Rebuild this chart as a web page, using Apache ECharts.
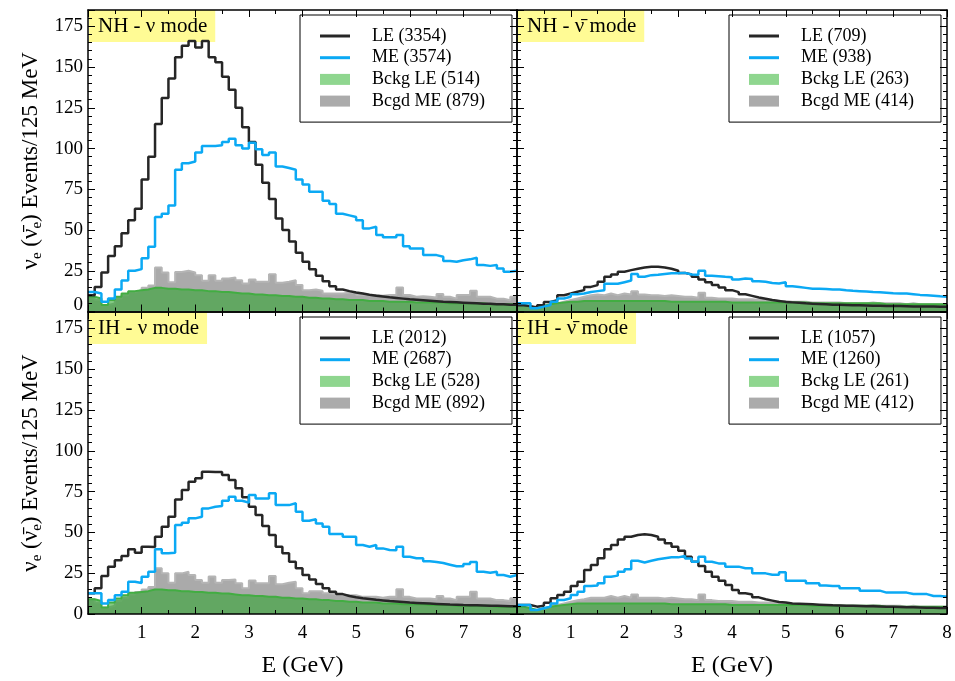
<!DOCTYPE html>
<html><head><meta charset="utf-8">
<script src="https://cdn.jsdelivr.net/npm/echarts@6/dist/echarts.min.js"></script>
<style>html,body{margin:0;padding:0;background:#fff}#c{width:955px;height:681px}</style>
</head><body><div id="c"></div>
<script>
// ---------------- data ----------------
const binWidth = 0.125; // GeV, 64 bins from 0 to 8 GeV
const xTickValues = [1, 2, 3, 4, 5, 6, 7, 8];
const yTickValues = [0, 25, 50, 75, 100, 125, 150, 175];
const panelTitles = ['NH - \u03bd mode', 'NH - \u03bd\u0304 mode', 'IH - \u03bd mode', 'IH - \u03bd\u0304 mode'];
const leCounts = [3354, 709, 2012, 1057];
const meCounts = [3574, 938, 2687, 1260];
const bkgLECounts = [514, 263, 528, 261];
const bkgMECounts = [879, 414, 892, 412];

// NH, neutrino mode
const nhNuLE = [
  10, 15, 24, 34, 40, 48, 56, 63, 81, 95,
  115, 131, 143, 156, 163, 166, 162, 166, 156, 153,
  144, 136, 125, 113, 104, 90, 79, 69, 57, 50,
  43, 36, 30.5, 26, 22, 18.6, 15.5, 13.5, 12.5, 11.7,
  11, 10.3, 9.7, 9.2, 8.7, 8.3, 7.9, 7.5, 7.2, 6.9,
  6.6, 6.3, 6.0, 5.8, 5.6, 5.4, 5.2, 5.0, 4.8, 4.7,
  4.5, 4.4, 4.2, 4.1];
const nhNuME = [
  12, 11, 6, 8, 13.5, 19, 25, 26, 32.6, 39.7,
  58, 60, 65, 87, 91, 92, 97.5, 101.6, 101.6, 102,
  104, 106, 102, 100, 103.6, 99.6, 96, 97.5, 89, 88,
  87, 81, 78, 73.5, 73.5, 68, 66, 60, 59, 58,
  56, 51, 52, 47, 45.5, 45.5, 47, 40, 38.7, 38.7,
  34.6, 34.6, 33.6, 31, 30.5, 31.5, 32, 33, 28.5, 28,
  28.5, 26.4, 24.4, 25];
const nhNuBkgLE = [
  9, 8, 4, 7, 9, 11, 12.5, 13, 13.5, 14.5,
  14.5, 14, 14, 13.5, 13.5, 13, 13, 12.5, 12.5, 12,
  12, 11.5, 11, 11, 10.5, 10.5, 10, 10, 9.5, 9.5,
  9, 9, 8.5, 8.5, 8, 8, 7.5, 7.5, 7, 7,
  7, 6.5, 6.5, 6.5, 6, 6, 6, 6, 5.5, 5.5,
  5.5, 5.5, 5.5, 5, 5, 5, 5, 5, 5, 4.5,
  4.5, 4.5, 4.5, 4.5];
const nhNuBkgME = [
  9, 7, 4, 5, 8, 10, 12, 13, 14.5, 16,
  27, 24, 18, 24.3, 25, 24, 22.3, 18.8, 22.3, 18.8,
  20.3, 20.9, 19.2, 17.2, 19.6, 18.2, 18.2, 22.9, 17.6, 18.2,
  19.2, 16.2, 13.1, 13.5, 12.7, 11.1, 11.1, 11.1, 11.5, 11.5,
  10.1, 10.1, 10.1, 9.6, 10.1, 10.1, 14.7, 10.1, 9, 9.3,
  9, 8.6, 10.7, 9, 7.9, 10.1, 10.1, 12.7, 9, 9,
  7.9, 7.9, 6.9, 9];

// NH, antineutrino mode
const nhAnuLE = [
  3.9, 3.3, 2.5, 3.9, 5.9, 6.9, 10, 11, 12.1, 13.1,
  15.1, 16.2, 18.2, 21.3, 22.7, 24.4, 25.4, 26.2, 27, 27.4,
  27.4, 27, 26.2, 25, 23.7, 22.7, 21.3, 19.7, 18, 16.2,
  14.7, 13.1, 11.9, 10.6, 9.6, 8.6, 7.8, 7, 6.5, 5.9,
  5.6, 5.3, 5.0, 4.8, 4.6, 4.4, 4.2, 4.1, 4.0, 3.9,
  3.8, 3.7, 3.6, 3.5, 3.4, 3.3, 3.3, 3.2, 3.1, 3.1,
  3.0, 3.0, 2.9, 2.9];
const nhAnuME = [
  5, 5, 2, 3, 4, 6, 8, 9, 10.6, 11,
  12, 12.5, 13, 17, 17, 18, 19, 23, 21.3, 22.3,
  22.5, 23, 23.4, 23.4, 23.7, 22.7, 22.5, 25, 22, 21.7,
  21.3, 21, 19.7, 20.3, 20, 18.6, 18.2, 17.5, 17.2, 18,
  15.5, 15, 14.5, 14, 14, 13.8, 13.5, 13.5, 13, 12.7,
  12.5, 12.3, 12, 11.8, 11.5, 11.2, 11, 11, 10.6, 10.2,
  10, 9.7, 9.3, 9];
const nhAnuBkgLE = [
  4, 3, 2.5, 3.5, 4.5, 5, 5.5, 6, 6, 6.5,
  6.5, 6.5, 6.5, 6.5, 6.5, 6.5, 6.5, 6.5, 6.5, 6.5,
  6.5, 6.5, 6, 6, 6, 6, 6, 6, 6, 6,
  6, 5.5, 5.5, 5.5, 5.5, 5.5, 5.5, 5.5, 5.5, 5.5,
  5.5, 5.5, 5.5, 5, 5, 5, 5, 5, 5, 5,
  5, 5, 5, 5, 4.5, 4.5, 4.5, 4.5, 4.5, 4.5,
  4.5, 4.5, 4.5, 4.5];
const nhAnuBkgME = [
  4, 3, 2, 3, 4, 5, 6, 7, 8, 9,
  10, 10.5, 10, 11, 10, 11, 10.5, 12.5, 10.5, 10,
  10, 9.5, 10, 9.5, 9, 9, 8.5, 11.5, 8.5, 8,
  8, 8, 7.5, 7.5, 7.5, 7, 7, 7, 6.5, 6.5,
  6, 6, 6, 5.5, 5.5, 5.5, 5.5, 5.5, 5, 5,
  5, 5, 5.5, 5, 5, 5, 5, 4.5, 5, 4.5,
  4.5, 4.5, 4.5, 4.5];

// IH, neutrino mode
const ihNuLE = [
  12.7, 15.7, 23.3, 29, 33, 35.5, 39.6, 37.5, 41.2, 41,
  47.3, 53.5, 59.6, 70.2, 75.9, 81, 83.1, 87.1, 87, 87,
  85.1, 82.1, 77, 71.5, 65.7, 60.6, 53.9, 48.4, 41.2, 37.2,
  32, 28, 23.9, 21.2, 18.4, 15.7, 13.7, 12.2, 11, 10.3,
  9.7, 9.2, 8.7, 8.3, 7.9, 7.6, 7.3, 7.0, 6.8, 6.6,
  6.4, 6.2, 6.0, 5.8, 5.7, 5.5, 5.4, 5.3, 5.2, 5.1,
  5.0, 4.9, 4.8, 4.7];
const ihNuME = [
  12.7, 12.7, 6.5, 8.6, 11.5, 13.7, 19.8, 19, 22.8, 25.9,
  39.6, 37.2, 37.5, 54.5, 55.9, 58.6, 59.6, 64.7, 65.7, 66.1,
  69.4, 71.8, 69.4, 68.2, 72.9, 70.8, 70.8, 73.9, 66.7, 66.7,
  67.8, 62.6, 57.1, 58, 55.5, 53.5, 49, 49, 47.3, 47.3,
  42.3, 41.2, 42.3, 40.2, 39.2, 39, 41.2, 35.1, 34.1, 34.1,
  32.3, 31.9, 31.2, 30.2, 29.2, 29.2, 30.6, 31.9, 25.9, 25.3,
  25.9, 23.9, 22.8, 23.9];
const ihNuBkgLE = [
  9, 8, 4, 7, 9.5, 11.5, 13, 13.5, 14, 15,
  15, 14.5, 14.5, 14, 14, 13.5, 13.5, 13, 13, 12.5,
  12.5, 12, 11.5, 11.5, 11, 11, 10.5, 10.5, 10, 10,
  9.5, 9.5, 9, 9, 8.5, 8.5, 8, 8, 7.5, 7.5,
  7, 7, 7, 6.5, 6.5, 6.5, 6, 6, 6, 6,
  5.5, 5.5, 5.5, 5.5, 5, 5, 5, 5, 5, 5,
  4.5, 4.5, 4.5, 4.5];
const ihNuBkgME = [
  9, 7, 4, 5, 8, 10, 12, 13.5, 15, 16.5,
  28, 24.9, 19.2, 24.9, 25.9, 23.9, 20.8, 19.2, 23, 19.2,
  20.8, 21.2, 18.8, 15.7, 20.5, 18.8, 18.8, 23.3, 18.2, 19.2,
  19.8, 15.7, 12.7, 14, 14, 12.7, 12, 11.5, 11.5, 11.5,
  10.5, 10.5, 10.5, 10, 10.5, 10.5, 15.1, 10.5, 9.5, 9.5,
  9.5, 9, 11, 9.5, 8.5, 10.5, 10.5, 13.7, 9.5, 9.5,
  8.5, 8.5, 8, 9.6];

// IH, antineutrino mode
const ihAnuLE = [
  5.5, 5.5, 4.5, 5, 6.9, 9.6, 11.6, 13.7, 17.1, 19.8,
  26.9, 30, 34.1, 39.6, 42.3, 45.7, 47.3, 48.4, 48.8, 48.4,
  47.3, 45.7, 43.3, 41.2, 38.8, 35.1, 32, 29.4, 25.9, 22.8,
  20.4, 17.8, 14.7, 12.7, 12, 10.2, 9, 8.2, 7.3, 7,
  6.5, 6.3, 6.1, 5.9, 5.7, 5.5, 5.3, 5.2, 5.1, 5.0,
  4.9, 4.8, 4.7, 4.6, 4.5, 4.4, 4.3, 4.2, 4.1, 4.0,
  3.9, 3.8, 3.7, 3.6];
const ihAnuME = [
  5.5, 5.5, 2.4, 3.5, 4.5, 6.5, 8.6, 9.6, 11.6, 13.7,
  17.1, 17.5, 18.8, 22.8, 23.5, 25.9, 27.4, 32.6, 31.6, 32.6,
  33.5, 34.1, 34.7, 34.7, 35.5, 34, 32, 35.1, 32, 31,
  31, 29, 29, 28, 28, 24.9, 24.9, 24, 24, 25.5,
  20.4, 20.4, 20.4, 18.8, 18.8, 17.5, 17.1, 17.1, 15.7, 15.7,
  15.7, 14.3, 14.3, 14.3, 13.1, 13.1, 13.1, 13.1, 12.2, 12.2,
  12.2, 11, 11, 10.5];
const ihAnuBkgLE = [
  4.5, 3.5, 2.5, 3.5, 4.5, 5, 5.5, 6, 6.5, 6.5,
  6.5, 6.5, 6.5, 6.5, 6.5, 6.5, 6.5, 6.5, 6.5, 6.5,
  6.5, 6.5, 6, 6, 6, 6, 6, 6, 6, 6,
  6, 5.5, 5.5, 5.5, 5.5, 5.5, 5.5, 5.5, 5.5, 5.5,
  5.5, 5.5, 5.5, 5, 5, 5, 5, 5, 5, 5,
  5, 5, 5, 5, 4.5, 4.5, 4.5, 4.5, 4.5, 4.5,
  4.5, 4.5, 4.5, 4.5];
const ihAnuBkgME = [
  4, 3, 2, 3, 4, 5.5, 6.5, 7.5, 8.5, 9,
  10, 10, 10, 11, 10, 11, 10, 12, 10, 10,
  10, 9.5, 10, 9.5, 9, 9, 8.5, 12, 8.5, 8,
  8, 8, 7.5, 7.5, 7.5, 7, 7, 7, 6.5, 6.5,
  6, 6, 6, 5.5, 5.5, 5.5, 5.5, 5.5, 5, 5,
  5, 5, 5.5, 5, 5, 5, 5, 4.5, 5, 4.5,
  4.5, 4.5, 4.5, 4.5];

// ---------------- chart ----------------
const FONT = "'Liberation Serif', 'DejaVu Serif', serif";
const panels = [
  {le: nhNuLE, me: nhNuME, bkLE: nhNuBkgLE, bkME: nhNuBkgME},
  {le: nhAnuLE, me: nhAnuME, bkLE: nhAnuBkgLE, bkME: nhAnuBkgME},
  {le: ihNuLE, me: ihNuME, bkLE: ihNuBkgLE, bkME: ihNuBkgME},
  {le: ihAnuLE, me: ihAnuME, bkLE: ihAnuBkgLE, bkME: ihAnuBkgME}
];
const gridBoxes = [[88, 10, 429, 301.5], [517, 10, 430, 301.5], [88, 312, 429, 302], [517, 312, 430, 302]];
const legendPos = [[300, 15], [729, 15], [300, 317], [729, 317]];

function hist(vals) {
  const d = vals.map((v, k) => [k * binWidth, v]);
  d.push([vals.length * binWidth, vals[vals.length - 1]]);
  return d;
}

const tickStyle = {inside: true, length: 7, lineStyle: {color: '#000', width: 1}};
const lineStyleAxis = {onZero: false, lineStyle: {color: '#000', width: 1.5}};
const lineIcon = 'path://M0,0 M0,4 L30,4 L30,7 L0,7 Z M30,11';
const rectIcon = 'path://M0,0 L30,0 L30,11 L0,11 Z';
const xMin = 0, xMax = xTickValues[xTickValues.length - 1], xInt = xTickValues[1] - xTickValues[0];
const yMin = yTickValues[0], yMax = 185, yInt = yTickValues[1] - yTickValues[0];

const option = {animation: false, backgroundColor: '#fff', grid: [], xAxis: [], yAxis: [], series: [], legend: [], title: []};

panels.forEach((p, i) => {
  const [l, t, w, h] = gridBoxes[i];
  const isBottom = i >= 2, isLeft = i % 2 === 0;
  option.grid.push({left: l, top: t, width: w, height: h});
  option.xAxis.push({
    type: 'value', gridIndex: i, min: xMin, max: xMax, interval: xInt, position: 'bottom', z: 10,
    axisLine: lineStyleAxis, axisTick: tickStyle,
    minorTick: {show: true, splitNumber: 2, length: 4, lineStyle: {color: '#000', width: 1}},
    splitLine: {show: false}, minorSplitLine: {show: false},
    axisLabel: {show: isBottom, showMinLabel: false, margin: 10, fontFamily: FONT, fontSize: 19, color: '#000'},
    name: isBottom ? 'E (GeV)' : '', nameLocation: 'middle', nameGap: 40,
    nameTextStyle: {fontFamily: FONT, fontSize: 24, color: '#000'}
  });
  option.yAxis.push({
    type: 'value', gridIndex: i, min: yMin, max: yMax, interval: yInt, position: 'left', z: 10,
    axisLine: lineStyleAxis, axisTick: tickStyle,
    minorTick: {show: true, splitNumber: 5, length: 4, lineStyle: {color: '#000', width: 1}},
    splitLine: {show: false}, minorSplitLine: {show: false},
    axisLabel: {
      show: isLeft, margin: 5, fontFamily: FONT, fontSize: 19, color: '#000', showMaxLabel: false,
      formatter: v => (v > 180 ? '' : (!isBottom && v === 0 ? '{up|0}' : String(v))),
      rich: {up: {fontFamily: FONT, fontSize: 19, color: '#000', padding: [0, 0, 13, 0]}}
    },
    name: isLeft ? '{n|\u03bd}{s|e}{n| (\u03bd\u0304}{s|e}{n|) Events/125 MeV}' : '',
    nameLocation: 'middle', nameGap: 43,
    nameTextStyle: {
      fontFamily: FONT, fontSize: 23, color: '#000',
      rich: {
        n: {fontFamily: FONT, fontSize: 23, color: '#000', lineHeight: 28},
        s: {fontFamily: FONT, fontSize: 15, color: '#000', lineHeight: 28, verticalAlign: 'bottom'}
      }
    }
  });

  const names = [`LE (${leCounts[i]})`, `ME (${meCounts[i]})`, `Bckg LE (${bkgLECounts[i]})`, `Bcgd ME (${bkgMECounts[i]})`];
  const common = {type: 'line', xAxisIndex: i, yAxisIndex: i, step: 'end', symbol: 'none', silent: true, emphasis: {disabled: true}};
  option.series.push(Object.assign({}, common, {
    name: names[3], data: hist(p.bkME), z: 2,
    lineStyle: {color: '#b5b5b5', width: 2}, itemStyle: {color: '#ababab'},
    areaStyle: {color: '#aaaaaa', opacity: 1}
  }));
  option.series.push(Object.assign({}, common, {
    name: names[2], data: hist(p.bkLE), z: 3,
    lineStyle: {color: '#42ad42', width: 2}, itemStyle: {color: '#8fd68f'},
    areaStyle: {color: 'rgba(50,165,50,0.6)', opacity: 1}
  }));
  option.series.push(Object.assign({}, common, {
    name: names[0], data: hist(p.le), z: 4,
    lineStyle: {color: '#262626', width: 2.5}, itemStyle: {color: '#262626'}
  }));
  option.series.push(Object.assign({}, common, {
    name: names[1], data: hist(p.me), z: 5,
    lineStyle: {color: '#0ba9f4', width: 2.5}, itemStyle: {color: '#0ba9f4'}
  }));

  option.legend.push({
    left: legendPos[i][0], top: legendPos[i][1], orient: 'vertical',
    padding: [11, 27, 11, 20], itemGap: 1.7, itemWidth: 30, itemHeight: 11,
    backgroundColor: '#fff', borderColor: '#000', borderWidth: 1, borderRadius: 0, z: 6,
    selectedMode: false, itemStyle: {borderWidth: 0},
    textStyle: {fontFamily: FONT, fontSize: 18, color: '#000', lineHeight: 20, padding: [0, 0, 0, 17]},
    data: [
      {name: names[0], icon: lineIcon}, {name: names[1], icon: lineIcon},
      {name: names[2], icon: rectIcon}, {name: names[3], icon: rectIcon}
    ]
  });

  option.title.push({
    text: panelTitles[i], left: l + 1, top: t, padding: [5, 8, 5, 9], backgroundColor: '#fffb95', z: 1,
    textStyle: {fontFamily: FONT, fontSize: 21, fontWeight: 'normal', color: '#000', lineHeight: 22}
  });
});

// mirrored top / right axes (ticks only)
panels.forEach((p, i) => {
  option.xAxis.push({
    type: 'value', gridIndex: i, min: xMin, max: xMax, interval: xInt, position: 'top', z: 10,
    axisLine: lineStyleAxis, axisTick: tickStyle,
    minorTick: {show: true, splitNumber: 2, length: 4, lineStyle: {color: '#000', width: 1}},
    splitLine: {show: false}, axisLabel: {show: false}
  });
  option.yAxis.push({
    type: 'value', gridIndex: i, min: yMin, max: yMax, interval: yInt, position: 'right', z: 10,
    axisLine: lineStyleAxis, axisTick: tickStyle,
    minorTick: {show: true, splitNumber: 5, length: 4, lineStyle: {color: '#000', width: 1}},
    splitLine: {show: false}, axisLabel: {show: false}
  });
});

const chart = echarts.init(document.getElementById('c'), null, {renderer: 'canvas'});
chart.setOption(option);
</script>
</body></html>
